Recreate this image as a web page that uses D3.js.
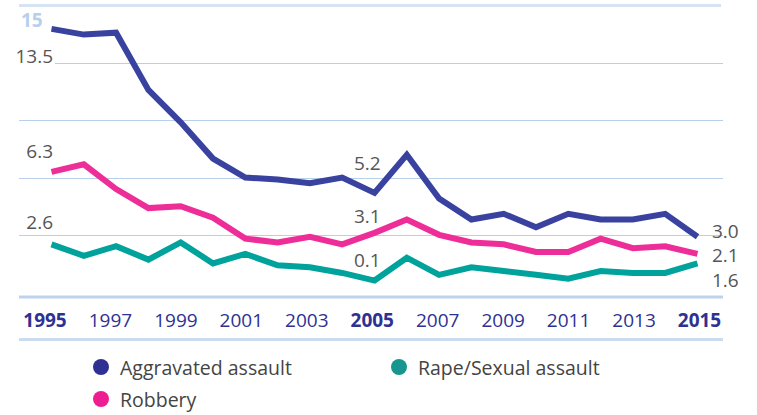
<!DOCTYPE html>
<html>
<head>
<meta charset="utf-8">
<script src="https://cdn.jsdelivr.net/npm/d3@7"></script>
<style>
  html, body { margin: 0; padding: 0; background: #ffffff; }
  svg { display: block; font-family: "Open Sans", "Noto Sans", sans-serif; }
</style>
</head>
<body>
<svg id="chart" width="757" height="415"></svg>
<script>
// ---- data ----
const years = d3.range(1995, 2016);
const aggravated = [13.8, 13.5, 13.6, 10.6, 8.9, 7.0, 6.0, 5.9, 5.7, 6.0, 5.2, 7.2, 4.9, 3.8, 4.1, 3.4, 4.1, 3.8, 3.8, 4.1, 2.9];
const robbery    = [6.3, 6.7, 5.4, 4.4, 4.5, 3.9, 2.8, 2.6, 2.9, 2.5, 3.1, 3.8, 3.0, 2.6, 2.5, 2.1, 2.1, 2.8, 2.3, 2.4, 2.0];
const rape       = [2.5, 1.9, 2.4, 1.7, 2.6, 1.5, 2.0, 1.4, 1.3, 1.0, 0.6, 1.8, 0.9, 1.3, 1.1, 0.9, 0.7, 1.1, 1.0, 1.0, 1.5];
const seriesNames = ["Aggravated assault", "Robbery", "Rape/Sexual assault"];
const tickYears = [1995, 1997, 1999, 2001, 2003, 2005, 2007, 2009, 2011, 2013, 2015];
const boldYears = [1995, 2005, 2015];
const gridValues = [3, 6, 9, 12];
const topValue = 15;
const startLabels = ["13.5", "6.3", "2.6"];
const midLabels = ["5.2", "3.1", "0.1"];
const endLabels = ["3.0", "2.1", "1.6"];

// ---- styles ----
const lineColors = ["#3a42a0", "#ee2e98", "#00a29c"];
const dotColors = ["#2e3192", "#ed1e91", "#17968f"];

const svg = d3.select("#chart");
const x = d3.scaleLinear().domain([1995, 2015]).range([51.5, 697.5]);
const xLab = d3.scaleLinear().domain([1995, 2015]).range([44.5, 699]);
const y = d3.scaleLinear().domain([0, 15]).range([292, 6]);

// gridlines
svg.append("g").selectAll("line").data(gridValues).join("line")
  .attr("x1", d => d === 12 ? 55 : 19).attr("x2", 723)
  .attr("y1", d => Math.round(y(d)) + 0.5).attr("y2", d => Math.round(y(d)) + 0.5)
  .attr("stroke", "#b9d0ea").attr("stroke-width", 1);
svg.append("line")
  .attr("x1", 19).attr("x2", 721).attr("y1", y(topValue) - 0.5).attr("y2", y(topValue) - 0.5)
  .attr("stroke", "#d6e3f3").attr("stroke-width", 3);
svg.append("text").attr("x", 21).attr("y", 27)
  .attr("font-size", 19).attr("font-weight", "bold").attr("fill", "#b7cfeb")
  .text(topValue);

// bottom bands
svg.append("line").attr("x1", 19).attr("x2", 723).attr("y1", 297).attr("y2", 297)
  .attr("stroke", "#bcd3ec").attr("stroke-width", 3);
svg.append("line").attr("x1", 19).attr("x2", 723).attr("y1", 339.5).attr("y2", 339.5)
  .attr("stroke", "#c9dcf0").attr("stroke-width", 3);

// x axis labels
const xAxis = d3.axisBottom(xLab).tickValues(tickYears).tickFormat(d3.format("d")).tickSize(0).tickPadding(0);
const gx = svg.append("g").attr("transform", "translate(0,313)").call(xAxis);
gx.select(".domain").remove();
gx.selectAll("text")
  .attr("font-size", 19)
  .attr("font-family", "'Open Sans', sans-serif")
  .attr("fill", "#2e3192")
  .attr("dy", "0.75em")
  .attr("font-weight", d => boldYears.includes(d) ? "bold" : "normal");

// lines
const allSeries = [aggravated, robbery, rape];
const line = d3.line().x((d, i) => x(years[i])).y(d => y(d));
svg.append("g").selectAll("path").data(allSeries).join("path")
  .attr("d", d => line(d))
  .attr("fill", "none")
  .attr("stroke", (d, i) => lineColors[i])
  .attr("stroke-width", 6)
  .attr("stroke-linejoin", "miter")
  .attr("stroke-linecap", "butt");

// value labels
const labelStyle = sel => sel.attr("font-size", 19).attr("fill", "#555555");
const startY = [63, 158, 229];
svg.append("g").selectAll("text").data(startLabels).join("text")
  .attr("x", 53).attr("y", (d, i) => startY[i]).attr("text-anchor", "end")
  .call(labelStyle).text(d => d);
const midY = [170, 223, 267];
svg.append("g").selectAll("text").data(midLabels).join("text")
  .attr("x", 354).attr("y", (d, i) => midY[i])
  .call(labelStyle).text(d => d);
const endY = [238, 262, 287];
svg.append("g").selectAll("text").data(endLabels).join("text")
  .attr("x", 712).attr("y", (d, i) => endY[i])
  .call(labelStyle).text(d => d);

// legend
const legendPos = [[101, 367], [101, 399], [399, 367]];
const lg = svg.append("g").selectAll("g").data(seriesNames).join("g")
  .attr("transform", (d, i) => `translate(${legendPos[i][0]},${legendPos[i][1]})`);
lg.append("circle").attr("r", 8).attr("fill", (d, i) => dotColors[i]);
lg.append("text").attr("x", 19).attr("y", 8)
  .attr("font-size", 19.5).attr("fill", "#444444").text(d => d);
</script>
</body>
</html>
